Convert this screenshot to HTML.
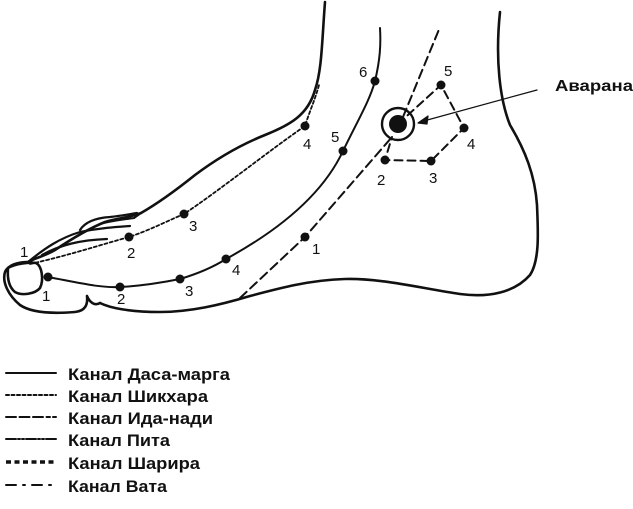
<!DOCTYPE html>
<html><head><meta charset="utf-8"><style>
html,body{margin:0;padding:0;background:#fff;}
svg{display:block}
text{font-family:"Liberation Sans",sans-serif;fill:#111;}
</style></head><body>
<svg width="633" height="509" viewBox="0 0 633 509" xmlns="http://www.w3.org/2000/svg">
<g fill="none" stroke="#111" stroke-linecap="round" stroke-linejoin="round">
<path stroke-width="2.6" d="M325,2 C322,40 322,70 315,90 C308,115 290,125 265,135 C240,145 215,160 195,175 C170,195 155,205 141,213 C128,218 118,218 105,222 C90,228 70,240 55,250 C45,256 35,258 28,262"/>
<path stroke-width="2.6" d="M28,262 C18,262 8,265 5,272 C2,282 8,295 20,305 C30,312 50,314 75,312 C85,311 88,305 87,296 M87,296 C90,303 95,306 100,303 M100,303 C110,308 130,312 160,312 C190,312 220,305 250,296 C280,288 310,280 345,279 C380,278 420,288 460,294 C490,298 515,292 530,275 C540,260 538,230 537,205 C535,175 525,150 510,125 C500,100 495,60 500,12"/>
<path stroke-width="2.6" d="M8,268 C15,264 28,262 36,263 C42,266 44,280 40,288 C35,294 22,296 15,292 C10,288 7,280 8,268"/>
<path stroke-width="2.2" d="M28,262 C45,248 60,238 80,232 C100,228 115,227 130,226"/>
<path stroke-width="2.2" d="M42,255 C60,245 80,240 107,239"/>
<path stroke-width="2.2" d="M80,230 C85,222 95,218 110,217 C120,216 125,215 137,213"/>
<path stroke-width="2" d="M100,224 C110,221 120,220 134,218 L141,213"/>
<path stroke-width="2" d="M48,277 C80,283 100,288 120,287 C140,286 160,283 180,279 C200,273 215,266 226,259 C270,235 320,200 343,151 C358,120 370,100 375,81 C380,60 381,45 380,28"/>
<path stroke-width="1.8" stroke-dasharray="3,2.5" d="M30,264 C70,255 100,245 129,237 C150,230 165,222 184,214 C220,190 270,150 305,126 C310,110 315,100 319,85"/>
<path stroke-width="2" stroke-dasharray="9,5" d="M240,298 L305,237 L392,137"/>
<path stroke-width="2" stroke-dasharray="9,5" d="M403,117 L440,27"/>
<path stroke-width="2" stroke-dasharray="8,5" d="M398,124 L441,85 L464,128 L431,161 L385,160 L392,137"/>
<circle cx="398" cy="124" r="16" stroke-width="2.4"/>
<path stroke-width="1.2" d="M537,90 L420,122"/>
<path stroke-width="1.2" fill="#111" d="M418,123 L428,116 L427,124 Z"/>
<g stroke-width="2">
<path d="M6,373 H56"/>
<path stroke-dasharray="3,2.5" d="M6,395 H56"/>
<path stroke-dasharray="10,3.5" d="M6,417 H50 M53,417 H56"/>
<path stroke-dasharray="10,2,2,2,2,2" d="M6,439 H56"/>
<path stroke-width="3.5" stroke-linecap="butt" stroke-dasharray="5,3.5" d="M6,462 H56"/>
<path stroke-dasharray="10,7,2,7" d="M6,485 H58"/>
</g>
</g>
<g fill="#111">
<circle cx="398" cy="124" r="9"/>
<circle cx="48" cy="277" r="4.5"/><circle cx="120" cy="287" r="4.5"/><circle cx="180" cy="279" r="4.5"/><circle cx="226" cy="259" r="4.5"/><circle cx="343" cy="151" r="4.5"/><circle cx="375" cy="81" r="4.5"/>
<circle cx="129" cy="237" r="4.5"/><circle cx="184" cy="214" r="4.5"/><circle cx="305" cy="126" r="4.5"/>
<circle cx="305" cy="237" r="4.5"/>
<circle cx="385" cy="160" r="4.5"/><circle cx="431" cy="161" r="4.5"/><circle cx="464" cy="128" r="4.5"/><circle cx="441" cy="85" r="4.5"/>
</g>
<g font-size="15">
<text x="20" y="257">1</text>
<text x="42" y="301">1</text><text x="117" y="304">2</text><text x="185" y="296">3</text><text x="232" y="275">4</text><text x="331" y="142">5</text><text x="359" y="77">6</text>
<text x="127" y="258">2</text><text x="189" y="231">3</text><text x="303" y="149">4</text>
<text x="312" y="254">1</text>
<text x="377" y="185">2</text><text x="429" y="183">3</text><text x="467" y="149">4</text><text x="444" y="76">5</text>
<text x="555" y="91" font-size="16" font-weight="bold" textLength="78" lengthAdjust="spacingAndGlyphs">Аварана</text>
</g>
<g font-size="17" font-weight="bold">
<text x="68" y="380" textLength="162" lengthAdjust="spacingAndGlyphs">Канал Даса-марга</text>
<text x="68" y="402" textLength="140" lengthAdjust="spacingAndGlyphs">Канал Шикхара</text>
<text x="68" y="424" textLength="145" lengthAdjust="spacingAndGlyphs">Канал Ида-нади</text>
<text x="68" y="446" textLength="102" lengthAdjust="spacingAndGlyphs">Канал Пита</text>
<text x="68" y="469" textLength="132" lengthAdjust="spacingAndGlyphs">Канал Шарира</text>
<text x="68" y="492" textLength="99" lengthAdjust="spacingAndGlyphs">Канал Вата</text>
</g>
</svg>
</body></html>
